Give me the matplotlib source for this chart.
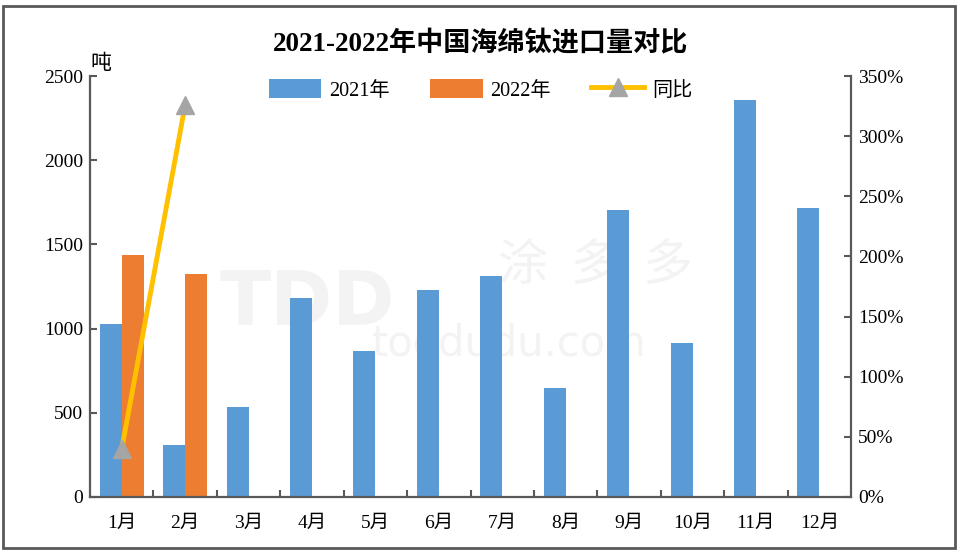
"""2021-2022 China titanium sponge imports: monthly bars plus YoY line."""

import matplotlib
matplotlib.use("Agg")
import matplotlib.pyplot as plt
from matplotlib.lines import Line2D
from matplotlib.patches import Patch, Rectangle
import numpy as np

plt.rcParams["font.family"] = ["Liberation Serif", "Noto Sans CJK SC"]

BLUE = "#5B9BD5"
ORANGE = "#ED7D31"
GOLD = "#FFC000"
GREY = "#A5A5A5"
AXIS = "#595959"
MARK = "#f3f3f3"

months = ["1月", "2月", "3月", "4月", "5月", "6月",
          "7月", "8月", "9月", "10月", "11月", "12月"]
imports_2021 = [1025, 310, 535, 1182, 867, 1229, 1312, 647, 1704, 914, 2357, 1716]
imports_2022 = [1440, 1325]
yoy_pct = [40, 326]

left_ticks = [0, 500, 1000, 1500, 2000, 2500]
right_ticks = [0, 50, 100, 150, 200, 250, 300, 350]

fig = plt.figure(figsize=(9.61, 5.54), dpi=100)
fig.patch.set_facecolor("white")
fig.patches.append(Rectangle((0.003, 0.011), 0.991, 0.978, transform=fig.transFigure,
                             fill=False, edgecolor=AXIS, linewidth=2))

ax = fig.add_axes([0.0937, 0.1029, 0.7919, 0.7599])
ax2 = ax.twinx()

# faint watermark, kept behind the bars
wm = dict(transform=fig.transFigure, ha="center", va="center", color=MARK,
          zorder=0.5, clip_on=False)
ax.text(0.32, 0.45, "TDD", fontsize=54, fontweight="bold", family="DejaVu Sans", **wm)
ax.text(0.62, 0.52, "涂  多  多", fontsize=36, family="Noto Sans CJK SC", **wm)
ax.text(0.53, 0.38, "toodudu.com", fontsize=30, family="DejaVu Sans", **wm)

x = np.arange(len(months))
w = 0.347
ax.bar(x - w / 2, imports_2021, width=w, color=BLUE, zorder=2)
ax.bar(x[:len(imports_2022)] + w / 2, imports_2022, width=w, color=ORANGE, zorder=2)

ax2.plot(x[:len(yoy_pct)], yoy_pct, color=GOLD, linewidth=3.5, marker="^",
         markersize=13, markerfacecolor=GREY, markeredgecolor=GREY, zorder=3)

ax.set_xlim(-0.5, 11.5)
ax.set_ylim(0, 2500)
ax2.set_ylim(0, 350)

ax.set_yticks(left_ticks)
ax.set_yticklabels([str(v) for v in left_ticks])
ax2.set_yticks(right_ticks)
ax2.set_yticklabels([f"{v}%" for v in right_ticks])

ax.set_xticks(np.arange(0.5, 11, 1.0))
ax.set_xticklabels([])
ax.set_xticks(x, minor=True)
ax.set_xticklabels(months, minor=True)
ax.tick_params(axis="x", which="minor", length=0, pad=13, labelsize=14)
ax.tick_params(axis="x", which="major", direction="in", length=5, width=1.5, color=AXIS)
ax.tick_params(axis="y", direction="in", length=5, width=1.5, color=AXIS, labelsize=14, pad=5)
ax2.tick_params(axis="y", direction="in", length=5, width=1.5, color=AXIS, labelsize=14, pad=5)

for a in (ax, ax2):
    a.spines["top"].set_visible(False)
    for s in ("left", "right", "bottom"):
        a.spines[s].set_color(AXIS)
        a.spines[s].set_linewidth(1.6)
ax.spines["right"].set_visible(False)
ax2.spines["left"].set_visible(False)
ax2.spines["bottom"].set_visible(False)

fig.text(0.5, 0.92, "2021-2022年中国海绵钛进口量对比", ha="center", va="center",
         fontsize=19.5, fontweight="bold")
fig.text(0.094, 0.884, "吨", ha="left", va="center", fontsize=15)

handles = [Patch(facecolor=BLUE), Patch(facecolor=ORANGE),
           Line2D([0], [0], color=GOLD, linewidth=3.5, marker="^", markersize=13,
                  markerfacecolor=GREY, markeredgecolor=GREY)]
fig.legend(handles, ["2021年", "2022年", "同比"], loc="center",
           bbox_to_anchor=(0.5, 0.838), ncol=3, frameon=False, fontsize=14.5,
           handlelength=2.6, handleheight=1.1, columnspacing=2.0, handletextpad=0.4)

fig.savefig("out.png", dpi=100)
